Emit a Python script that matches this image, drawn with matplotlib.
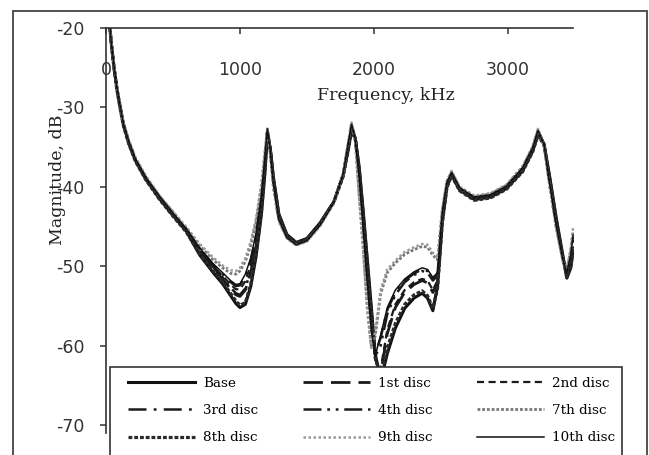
import matplotlib
matplotlib.use('Agg')
import matplotlib.pyplot as plt
from matplotlib.patches import Rectangle
from matplotlib.lines import Line2D

# ---------------- data ----------------
freq = [12, 25, 40, 60, 80, 100, 130, 170, 220, 300, 400, 500, 600, 700, 800, 870, 930, 970,
        1000, 1040, 1080, 1120, 1160, 1185, 1205, 1225, 1250, 1290, 1350, 1420, 1500, 1600,
        1700, 1770, 1805, 1833, 1860, 1890, 1920, 1950, 1980, 2010, 2050, 2100, 2160, 2230,
        2300, 2360, 2400, 2440, 2475, 2510, 2545, 2580, 2640, 2750, 2870, 2990, 3110, 3185,
        3225, 3270, 3310, 3360, 3410, 3440, 3470, 3488]

base = [-14.0, -19.2, -22.0, -25.0, -27.5, -29.5, -32.2, -34.5, -36.7, -39.1, -41.5, -43.6, -45.6,
        -48.6, -50.8, -52.2, -53.7, -54.7, -55.2, -54.8, -52.6, -48.8, -43.5, -38.5, -33.5, -35.0,
        -38.8, -43.4, -46.0, -47.0, -46.5, -44.5, -41.9, -38.6, -35.6, -32.9, -33.8, -37.5, -43.0,
        -49.0, -55.0, -61.0, -64.5, -61.0, -57.8, -55.3, -54.0, -53.4, -54.0, -55.6, -52.5, -44.5,
        -40.0, -38.5, -40.4, -41.6, -41.3, -40.2, -38.0, -35.5, -33.4, -34.6, -38.5, -43.8, -48.6,
        -51.5, -50.2, -48.0]
disc1 = [-14.0, -19.1, -21.9, -24.9, -27.4, -29.4, -32.1, -34.4, -36.6, -39.0, -41.4, -43.5, -45.5,
         -48.2, -50.3, -51.6, -52.9, -53.6, -53.8, -53.0, -50.8, -47.5, -42.5, -37.6, -33.0, -34.8,
         -39.0, -43.6, -46.1, -47.1, -46.6, -44.5, -41.9, -38.5, -35.3, -32.5, -33.6, -37.8, -43.5,
         -49.8, -55.5, -61.5, -63.5, -58.5, -55.2, -53.3, -52.3, -51.8, -52.1, -53.3, -52.0, -44.0,
         -39.7, -38.3, -40.3, -41.5, -41.2, -40.0, -37.8, -35.3, -33.1, -34.5, -38.8, -44.2, -48.8,
         -51.2, -49.6, -47.2]
disc2 = [-14.0, -19.1, -21.9, -24.9, -27.4, -29.4, -32.1, -34.4, -36.6, -39.0, -41.3, -43.4, -45.4,
         -47.9, -50.0, -51.2, -52.3, -52.9, -52.9, -51.9, -49.8, -46.6, -41.7, -37.0, -32.9, -34.9,
         -39.3, -43.8, -46.2, -47.2, -46.7, -44.6, -41.9, -38.5, -35.2, -32.4, -33.6, -38.0, -43.8,
         -50.2, -56.0, -61.8, -63.0, -58.0, -54.8, -53.0, -52.0, -51.6, -51.8, -53.0, -51.8, -43.9,
         -39.7, -38.3, -40.3, -41.5, -41.2, -40.1, -37.9, -35.4, -33.2, -34.5, -38.7, -44.0, -48.7,
         -51.3, -49.8, -47.5]
disc3 = [-14.0, -19.1, -21.8, -24.8, -27.3, -29.3, -32.0, -34.3, -36.5, -38.9, -41.3, -43.3, -45.3,
         -47.8, -49.8, -51.0, -52.0, -52.5, -52.4, -51.3, -49.3, -46.2, -41.3, -36.8, -32.8, -35.0,
         -39.5, -44.0, -46.3, -47.2, -46.7, -44.7, -42.0, -38.4, -35.0, -32.2, -33.8, -38.5, -45.0,
         -51.5, -57.5, -61.0, -59.0, -55.5, -53.3, -51.8, -50.9, -50.4, -50.6, -51.6, -51.0, -43.5,
         -39.5, -38.2, -40.2, -41.3, -41.0, -39.9, -37.6, -35.1, -32.9, -34.6, -39.2, -44.6, -49.0,
         -50.9, -48.8, -46.3]
disc4 = [-14.0, -19.2, -22.0, -24.9, -27.4, -29.4, -32.1, -34.4, -36.6, -39.0, -41.4, -43.4, -45.4,
         -48.0, -50.1, -51.4, -52.7, -53.4, -53.6, -52.8, -50.5, -47.2, -42.2, -37.3, -32.9, -34.9,
         -39.2, -43.8, -46.2, -47.2, -46.7, -44.6, -41.9, -38.4, -35.2, -32.4, -33.7, -38.0, -44.0,
         -50.5, -56.5, -61.3, -60.0, -56.0, -53.6, -52.0, -51.1, -50.6, -50.8, -51.8, -51.2, -43.7,
         -39.6, -38.3, -40.2, -41.4, -41.1, -40.0, -37.7, -35.2, -33.0, -34.6, -39.0, -44.4, -48.9,
         -51.0, -49.2, -46.8]
disc7 = [-14.0, -19.0, -21.7, -24.7, -27.2, -29.2, -31.9, -34.2, -36.4, -38.8, -41.2, -43.2, -45.2,
         -47.4, -49.2, -50.2, -50.9, -51.0, -50.6, -49.4, -47.4, -44.5, -40.0, -36.0, -32.7, -35.5,
         -40.0, -44.2, -46.4, -47.3, -46.8, -44.8, -42.0, -38.4, -34.8, -32.0, -34.0, -41.0, -47.5,
         -55.0, -60.0, -58.8, -53.5, -50.8, -49.6, -48.5, -47.9, -47.5, -47.6, -48.6, -49.2, -43.0,
         -39.3, -38.1, -40.1, -41.2, -40.9, -39.8, -37.5, -35.0, -32.8, -34.8, -39.6, -45.0, -49.2,
         -50.6, -48.0, -45.5]
disc8 = [-14.1, -19.3, -22.1, -25.1, -27.6, -29.6, -32.3, -34.6, -36.8, -39.2, -41.6, -43.7, -45.7,
         -48.5, -50.6, -52.0, -53.4, -54.4, -54.9, -54.6, -52.3, -48.4, -43.2, -38.2, -33.3, -35.2,
         -39.0, -43.6, -46.1, -47.1, -46.6, -44.6, -42.0, -38.7, -35.7, -33.0, -33.9, -37.8, -43.4,
         -49.5, -55.6, -61.5, -64.0, -60.3, -57.2, -54.8, -53.6, -53.1, -53.7, -55.3, -52.8, -44.6,
         -40.1, -38.6, -40.5, -41.7, -41.4, -40.3, -38.1, -35.6, -33.5, -34.7, -38.7, -44.0, -48.8,
         -51.4, -50.0, -47.7]
disc9 = [-13.9, -18.9, -21.6, -24.6, -27.1, -29.1, -31.8, -34.1, -36.3, -38.7, -41.1, -43.1, -45.1,
         -47.2, -48.9, -49.9, -50.5, -50.6, -50.2, -49.0, -46.9, -44.0, -39.6, -35.7, -32.6, -35.8,
         -40.4, -44.4, -46.5, -47.4, -46.9, -44.9, -42.1, -38.3, -34.6, -31.9, -34.2, -41.5, -48.2,
         -55.6, -60.3, -58.2, -53.0, -50.4, -49.3, -48.2, -47.6, -47.2, -47.3, -48.3, -49.0, -42.8,
         -39.2, -38.0, -40.0, -41.1, -40.8, -39.7, -37.4, -34.9, -32.7, -34.9, -39.8, -45.3, -49.4,
         -50.4, -47.6, -45.0]
disc10 = [-14.0, -19.0, -21.8, -24.8, -27.3, -29.3, -32.0, -34.3, -36.5, -38.9, -41.2, -43.3, -45.3,
          -47.7, -49.7, -50.8, -51.8, -52.3, -52.2, -51.0, -49.0, -45.8, -41.0, -36.5, -32.7, -35.2,
          -39.7, -44.1, -46.4, -47.3, -46.8, -44.8, -42.0, -38.4, -34.9, -32.1, -33.9, -38.8, -45.4,
          -52.0, -58.0, -61.3, -58.7, -55.2, -53.0, -51.6, -50.7, -50.2, -50.4, -51.4, -50.8, -43.3,
          -39.4, -38.2, -40.1, -41.3, -41.0, -39.9, -37.6, -35.1, -32.9, -34.7, -39.4, -44.8, -49.1,
          -50.8, -48.5, -46.0]

labels = ['Base', '1st disc', '2nd disc', '3rd disc', '4th disc',
          '7th disc', '8th disc', '9th disc', '10th disc']
x_ticks = [0, 1000, 2000, 3000]
y_ticks = [-70, -60, -50, -40, -30, -20]

# ---------------- styles ----------------
styles = [
    dict(color='#111111', lw=2.2, ls='-'),                          # Base
    dict(color='#1a1a1a', lw=2.0, ls=(0, (7.0, 2.9))),              # 1st
    dict(color='#1a1a1a', lw=1.6, ls=(0, (3.2, 2.0))),              # 2nd
    dict(color='#1a1a1a', lw=1.8, ls=(0, (7.2, 2.9, 1.1, 2.9))),    # 3rd
    dict(color='#1a1a1a', lw=1.8, ls=(0, (7.2, 2.3, 1.1, 2.3, 1.1, 2.3))),  # 4th
    dict(color='#777777', lw=2.0, ls=(0, (1.0, 0.7))),              # 7th
    dict(color='#2a2a2a', lw=2.3, ls=(0, (1.2, 0.6))),              # 8th
    dict(color='#999999', lw=1.8, ls=(0, (1.0, 1.0))),              # 9th
    dict(color='#111111', lw=1.1, ls='-'),                          # 10th
]
series = [base, disc1, disc2, disc3, disc4, disc7, disc8, disc9, disc10]

W, H = 649, 455
def fx(px):
    return px / W
def fy(py):
    return 1 - py / H

fig = plt.figure(figsize=(W / 100, H / 100), dpi=100)
fig.patch.set_facecolor('white')

# outer frame
fig.add_artist(Rectangle((fx(12.5), fy(470)), fx(646.5) - fx(12.5), fy(10.5) - fy(470),
                         transform=fig.transFigure, fill=False, ec='#444444', lw=1.3, zorder=0.5))

ax = fig.add_axes([fx(106), fy(433), (573.5 - 106) / W, (433 - 28) / H])
ax.set_xlim(0, 3490)
ax.set_ylim(-71, -20)
ax.patch.set_alpha(0)

for ys, st, lab in zip(series, styles, labels):
    ax.plot(freq, ys, label=lab, solid_capstyle='butt', dash_capstyle='butt', **st)

for s in ['top', 'right']:
    ax.spines[s].set_visible(False)
ax.spines['bottom'].set_position(('data', -20))
for s in ['left', 'bottom']:
    ax.spines[s].set_color('#333333')
    ax.spines[s].set_linewidth(1.2)

tick_font = dict(family='DejaVu Sans', size=12.5)
ax.set_xticks(x_ticks)
ax.set_xticklabels([str(v) for v in x_ticks], color='#333333', **tick_font)
ax.set_yticks(y_ticks)
ax.set_yticklabels([str(v) for v in y_ticks], color='#333333', **tick_font)
ax.tick_params(axis='x', direction='out', length=4, width=1.1, color='#333333', pad=20)
ax.tick_params(axis='y', direction='out', length=4.3, width=1.1, color='#333333', pad=11)

lab_font = dict(family='DejaVu Serif', size=12.5, color='#222222')
fig.text(fx(386), fy(95), 'Frequency, kHz', ha='center', va='center', **lab_font)
fig.text(fx(57), fy(180), 'Magnitude, dB', ha='center', va='center', rotation=90, **lab_font)

# legend box (extends past the bottom edge as in the reference)
fig.add_artist(Rectangle((fx(110), fy(470)), fx(622) - fx(110), fy(367) - fy(470),
                         transform=fig.transFigure, fc='white', ec='#333333', lw=1.2, zorder=3))

handles = [Line2D([0], [1], **st) for st in styles]
cols = [[0, 3, 6], [1, 4, 7], [2, 5, 8]]
col_x = [128, 303, 477]
for cx, idx in zip(col_x, cols):
    fig.legend([handles[i] for i in idx], [labels[i] for i in idx],
               loc='upper left', bbox_to_anchor=(fx(cx), fy(377)),
               frameon=False, borderpad=0, borderaxespad=0,
               handlelength=5.0, handletextpad=0.6, labelspacing=1.05,
               prop=dict(family='DejaVu Serif', size=9.7))

fig.savefig('out.png', dpi=100, facecolor='white')
